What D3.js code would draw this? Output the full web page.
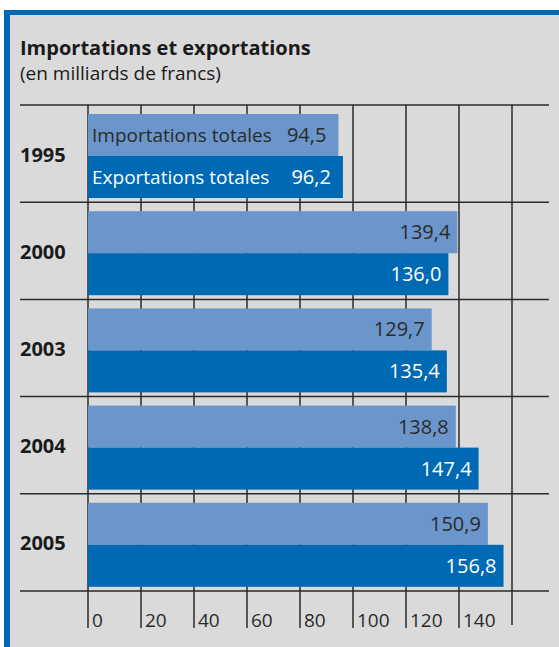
<!DOCTYPE html>
<meta charset="utf-8">
<script src="https://d3js.org/d3.v7.min.js"></script>
<style>
  body { margin: 0; background: white; }
  text { font-family: "Open Sans", sans-serif; }
</style>
<div id="chart"></div>
<script>
  // data
  var years = ["1995", "2000", "2003", "2004", "2005"];
  var imports = [94.5, 139.4, 129.7, 138.8, 150.9];
  var exports = [96.2, 136.0, 135.4, 147.4, 156.8];
  var seriesNames = ["Importations totales", "Exportations totales"];
  var tickValues = [0, 20, 40, 60, 80, 100, 120, 140, 160];
  var tickLabels = ["0", "20", "40", "60", "80", "100", "120", "140", ""];

  var width = 559, height = 647;
  var fmt = function(v) { return d3.format(".1f")(v).replace(".", ","); };

  var svg = d3.select("#chart")
    .append("svg")
    .attr("width", width)
    .attr("height", height);

  // frame: blue border at top/left, grey panel inside
  svg.append("rect").attr("x", 4).attr("y", 10).attr("width", width).attr("height", height)
    .attr("fill", "#0069b4");
  svg.append("rect").attr("x", 10).attr("y", 15).attr("width", width).attr("height", height)
    .attr("fill", "#dadada");

  svg.append("text")
    .attr("x", 20).attr("y", 55)
    .style("font-size", "20px").style("font-weight", "bold")
    .attr("fill", "#1a1a1a")
    .text("Importations et exportations");
  svg.append("text")
    .attr("x", 20).attr("y", 80)
    .style("font-size", "19px")
    .attr("fill", "#1a1a1a")
    .text("(en milliards de francs)");

  var x = d3.scaleLinear().domain([0, 160]).range([88, 512]);
  var y = d3.scaleBand().domain(years).range([105, 591]);
  var bw = y.bandwidth();

  // horizontal separators
  svg.append("g").selectAll("line")
    .data(y.domain().map(function(d) { return y(d); }).concat([y.range()[1]]))
    .join("line")
    .attr("x1", 20).attr("x2", 549)
    .attr("y1", function(d) { return d; }).attr("y2", function(d) { return d; })
    .attr("stroke", "#2a2a2a").attr("stroke-width", 1.5);

  // vertical grid + ticks
  svg.append("g").selectAll("line")
    .data(tickValues)
    .join("line")
    .attr("x1", function(d) { return x(d); }).attr("x2", function(d) { return x(d); })
    .attr("y1", 105).attr("y2", function(d) { return d === 160 ? 625 : 628; })
    .attr("stroke", "#2a2a2a").attr("stroke-width", 1.5);

  svg.append("g").selectAll("text")
    .data(tickValues)
    .join("text")
    .attr("x", function(d) { return x(d) + 4; })
    .attr("y", 627)
    .style("font-size", "19px")
    .attr("fill", "#2a2a2a")
    .text(function(d, i) { return tickLabels[i]; });

  var rows = years.map(function(yr, i) { return {year: yr, imp: imports[i], exp: exports[i], i: i}; });
  var barH = 42, padTop = 9;

  var g = svg.append("g").selectAll("g")
    .data(rows)
    .join("g")
    .attr("transform", function(d) { return "translate(0," + y(d.year) + ")"; });

  g.append("rect")
    .attr("x", x(0)).attr("y", padTop)
    .attr("width", function(d) { return x(d.imp) - x(0); })
    .attr("height", barH)
    .attr("fill", "#6a96cc");
  g.append("rect")
    .attr("x", x(0)).attr("y", padTop + barH)
    .attr("width", function(d) { return x(d.exp) - x(0); })
    .attr("height", barH)
    .attr("fill", "#0069b4");

  g.append("text")
    .attr("x", 20).attr("y", bw / 2 + 8)
    .style("font-size", "20px").style("font-weight", "bold")
    .attr("fill", "#1a1a1a")
    .text(function(d) { return d.year; });

  g.append("text")
    .attr("x", function(d) { return x(d.imp) - (d.i === 0 ? 12 : 7); })
    .attr("y", padTop + barH / 2 + 7)
    .attr("text-anchor", "end")
    .style("font-size", "20px")
    .attr("fill", "#2a2a2a")
    .text(function(d) { return fmt(d.imp); });
  g.append("text")
    .attr("x", function(d) { return x(d.exp) - (d.i === 0 ? 12 : 7); })
    .attr("y", padTop + barH * 1.5 + 7)
    .attr("text-anchor", "end")
    .style("font-size", "20px")
    .attr("fill", "white")
    .text(function(d) { return fmt(d.exp); });

  // series names on the first group
  var first = g.filter(function(d) { return d.i === 0; });
  first.append("text")
    .attr("x", 92).attr("y", padTop + barH / 2 + 7)
    .style("font-size", "19px")
    .attr("fill", "#2a2a2a")
    .text(seriesNames[0]);
  first.append("text")
    .attr("x", 92).attr("y", padTop + barH * 1.5 + 7)
    .style("font-size", "19px")
    .attr("fill", "white")
    .text(seriesNames[1]);
</script>
